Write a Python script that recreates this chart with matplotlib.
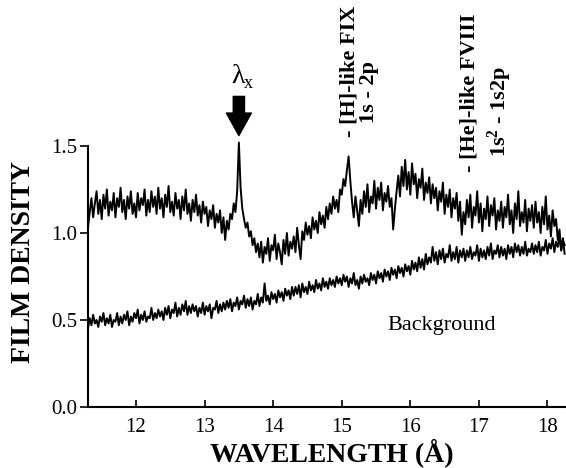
import numpy as np
from matplotlib import pyplot as plt

# wavelength grid (Angstrom), 279 samples every 0.025 from 11.30 to 18.25
wavelength = np.linspace(11.30, 18.25, 279)

# film density, plasma shot (upper trace), one row per 0.5 A
density_shot = [
    1.03, 1.12, 1.20, 1.09, 1.17, 1.24, 1.11, 1.19, 1.08, 1.22, 1.14, 1.25, 1.10, 1.18, 1.13, 1.23, 1.09, 1.20, 1.15, 1.26,
    1.12, 1.19, 1.08, 1.21, 1.14, 1.24, 1.11, 1.17, 1.09, 1.23, 1.13, 1.20, 1.16, 1.25, 1.10, 1.19, 1.12, 1.24, 1.15, 1.21,
    1.11, 1.26, 1.14, 1.20, 1.09, 1.22, 1.15, 1.27, 1.12, 1.18, 1.10, 1.23, 1.14, 1.19, 1.08, 1.21, 1.13, 1.25, 1.11, 1.17,
    1.07, 1.19, 1.12, 1.22, 1.10, 1.16, 1.06, 1.18, 1.11, 1.15, 1.04, 1.13, 1.08, 1.16, 1.03, 1.11, 1.06, 1.13, 1.00, 1.09,
    0.96, 1.07, 1.02, 1.11, 1.08, 1.17, 1.12, 1.24, 1.52, 1.26, 1.14, 1.08, 1.03, 1.06, 0.98, 1.01, 0.93, 0.97, 0.89, 0.94,
    0.86, 0.95, 0.83, 0.92, 0.88, 0.97, 0.84, 0.93, 0.90, 0.99, 0.85, 0.94, 0.89, 0.82, 0.96, 0.88, 1.00, 0.87, 0.95, 0.91,
    0.98, 0.89, 1.03, 0.93, 0.85, 1.01, 0.96, 1.06, 0.99, 1.04, 0.97, 1.09, 1.02, 1.07, 1.00, 1.12, 1.05, 1.10, 1.03, 1.15,
    1.08, 1.17, 1.11, 1.21, 1.14, 1.19, 1.12, 1.25, 1.22, 1.31, 1.27, 1.36, 1.44, 1.30, 1.18, 1.09, 1.21, 1.13, 1.04, 1.19,
    1.11, 1.24, 1.15, 1.28, 1.12, 1.21, 1.17, 1.30, 1.14, 1.26, 1.19, 1.29, 1.13, 1.23, 1.18, 1.27, 1.15, 1.20, 1.02, 1.14,
    1.24, 1.33, 1.21, 1.38, 1.27, 1.42, 1.25, 1.35, 1.22, 1.40, 1.28, 1.34, 1.20, 1.31, 1.26, 1.37, 1.19, 1.29, 1.23, 1.32,
    1.17, 1.28, 1.20, 1.26, 1.13, 1.24, 1.18, 1.29, 1.11, 1.22, 1.15, 1.25, 1.09, 1.20, 1.14, 1.23, 1.07, 1.18, 0.99, 1.12,
    1.05, 1.19, 1.09, 1.22, 1.03, 1.15, 1.10, 1.24, 1.06, 1.17, 1.01, 1.14, 1.08, 1.21, 1.04, 1.16, 1.10, 1.20, 1.02, 1.13,
    1.07, 1.18, 1.03, 1.15, 1.09, 1.22, 1.05, 1.13, 1.00, 1.17, 1.08, 1.24, 1.04, 1.12, 1.06, 1.19, 1.01, 1.14, 1.07, 1.16,
    1.03, 1.18, 1.06, 1.12, 1.00, 1.15, 1.05, 1.21, 1.02, 1.10, 0.98, 1.13, 1.04, 1.08, 0.96, 1.02, 0.90, 0.97, 0.88,
]

# background exposure (lower trace)
density_background = [
    0.45, 0.51, 0.47, 0.53, 0.48, 0.50, 0.46, 0.52, 0.49, 0.54, 0.47, 0.51, 0.48, 0.53, 0.46, 0.50, 0.49, 0.54, 0.47, 0.52,
    0.48, 0.53, 0.50, 0.55, 0.47, 0.52, 0.49, 0.54, 0.51, 0.56, 0.48, 0.53, 0.50, 0.55, 0.49, 0.52, 0.51, 0.57, 0.50, 0.54,
    0.51, 0.56, 0.52, 0.55, 0.50, 0.57, 0.53, 0.58, 0.51, 0.56, 0.54, 0.60, 0.52, 0.57, 0.53, 0.59, 0.55, 0.61, 0.53, 0.58,
    0.54, 0.59, 0.55, 0.58, 0.52, 0.57, 0.54, 0.60, 0.53, 0.58, 0.55, 0.59, 0.51, 0.57, 0.56, 0.61, 0.54, 0.59, 0.55, 0.60,
    0.56, 0.61, 0.57, 0.62, 0.55, 0.60, 0.58, 0.63, 0.56, 0.61, 0.59, 0.64, 0.57, 0.62, 0.58, 0.63, 0.56, 0.61, 0.59, 0.65,
    0.58, 0.63, 0.60, 0.71, 0.61, 0.64, 0.59, 0.66, 0.62, 0.65, 0.60, 0.67, 0.63, 0.66, 0.61, 0.68, 0.64, 0.67, 0.62, 0.69,
    0.64, 0.69, 0.65, 0.70, 0.63, 0.71, 0.66, 0.69, 0.65, 0.72, 0.67, 0.70, 0.66, 0.73, 0.68, 0.71, 0.67, 0.74, 0.69, 0.72,
    0.68, 0.74, 0.70, 0.73, 0.69, 0.75, 0.71, 0.74, 0.70, 0.76, 0.72, 0.75, 0.69, 0.74, 0.71, 0.77, 0.70, 0.73, 0.68, 0.75,
    0.71, 0.76, 0.72, 0.74, 0.70, 0.77, 0.73, 0.76, 0.71, 0.78, 0.74, 0.77, 0.72, 0.79, 0.75, 0.78, 0.73, 0.80, 0.76, 0.79,
    0.74, 0.81, 0.77, 0.80, 0.75, 0.82, 0.78, 0.81, 0.76, 0.84, 0.79, 0.83, 0.78, 0.86, 0.80, 0.85, 0.79, 0.88, 0.82, 0.86,
    0.83, 0.92, 0.84, 0.89, 0.82, 0.90, 0.85, 0.91, 0.83, 0.88, 0.86, 0.93, 0.84, 0.89, 0.85, 0.92, 0.83, 0.90, 0.86, 0.91,
    0.84, 0.90, 0.86, 0.92, 0.85, 0.89, 0.87, 0.93, 0.84, 0.91, 0.86, 0.90, 0.85, 0.92, 0.87, 0.94, 0.85, 0.90, 0.88, 0.93,
    0.86, 0.92, 0.87, 0.91, 0.85, 0.93, 0.88, 0.92, 0.86, 0.94, 0.89, 0.93, 0.87, 0.92, 0.88, 0.95, 0.87, 0.91, 0.89, 0.94,
    0.88, 0.93, 0.89, 0.95, 0.87, 0.92, 0.90, 0.96, 0.88, 0.94, 0.91, 0.97, 0.89, 0.95, 0.92, 0.98, 0.90, 0.96, 0.93,
]

x_ticks = [12, 13, 14, 15, 16, 17, 18]
y_ticks = [0.0, 0.5, 1.0, 1.5]
y_tick_labels = ["0.0", "0.5", "1.0", "1.5"]

line_x = 13.5  # lambda_x
lines = [
    (15.12, 1.552, "- [H]-like FIX"),
    (15.40, 1.63, "1s - 2p"),
    (16.87, 1.35, "- [He]-like FVIII"),
    (17.30, 1.437, "1s$^\\mathbf{2}$ - 1s2p"),
]

plt.rcParams["font.family"] = ["Liberation Serif", "DejaVu Serif"]
plt.rcParams["mathtext.fontset"] = "custom"
plt.rcParams["mathtext.rm"] = "Liberation Serif"
plt.rcParams["mathtext.it"] = "Liberation Serif:italic"
plt.rcParams["mathtext.bf"] = "Liberation Serif:bold"

fig = plt.figure(figsize=(5.66, 4.68), dpi=100)
ax = fig.add_axes([88 / 566, 61 / 468, 478 / 566, 261 / 468])

ax.plot(wavelength, density_shot, color="black", lw=1.4, clip_on=False)
ax.plot(wavelength, density_background, color="black", lw=1.4, clip_on=False)

ax.set_xlim(11.30, 18.27)
ax.set_ylim(0, 1.5)
ax.spines["top"].set_visible(False)
ax.spines["right"].set_visible(False)
ax.spines["left"].set_linewidth(1.5)
ax.spines["bottom"].set_linewidth(1.5)

ax.set_xticks(x_ticks)
ax.set_yticks(y_ticks)
ax.set_yticklabels(y_tick_labels)
ax.tick_params(axis="x", direction="in", length=5, width=1.2, labelsize=15, pad=8)
ax.tick_params(axis="y", direction="out", length=6, width=1.2, labelsize=15, pad=2)

fig.text(332 / 566, 1 - 453 / 468, "WAVELENGTH (Å)", ha="center", va="center",
         fontsize=20, fontweight="bold")
fig.text(24 / 566, 1 - 262 / 468, "FILM DENSITY", ha="center", va="center",
         rotation=90, fontsize=20, fontweight="bold")

# arrow marking the unknown line
ax.annotate("", xy=(line_x, 1.56), xytext=(line_x, 1.785), annotation_clip=False,
            arrowprops=dict(arrowstyle="simple,head_length=0.9,head_width=1.0,tail_width=0.45",
                            fc="black", ec="black", mutation_scale=18, shrinkA=0, shrinkB=0))
ax.text(line_x - 0.01, 1.90, "λ", ha="center", va="center", fontsize=20, clip_on=False)
ax.text(line_x + 0.14, 1.86, "x", ha="center", va="center", fontsize=13, clip_on=False)

for x, y, label in lines:
    ax.text(x, y, label, rotation=90, ha="center", va="bottom", fontsize=16,
            fontweight="bold", clip_on=False)

ax.text(16.46, 0.47, "Background", ha="center", va="center", fontsize=16)

plt.savefig("out.png", dpi=100)
